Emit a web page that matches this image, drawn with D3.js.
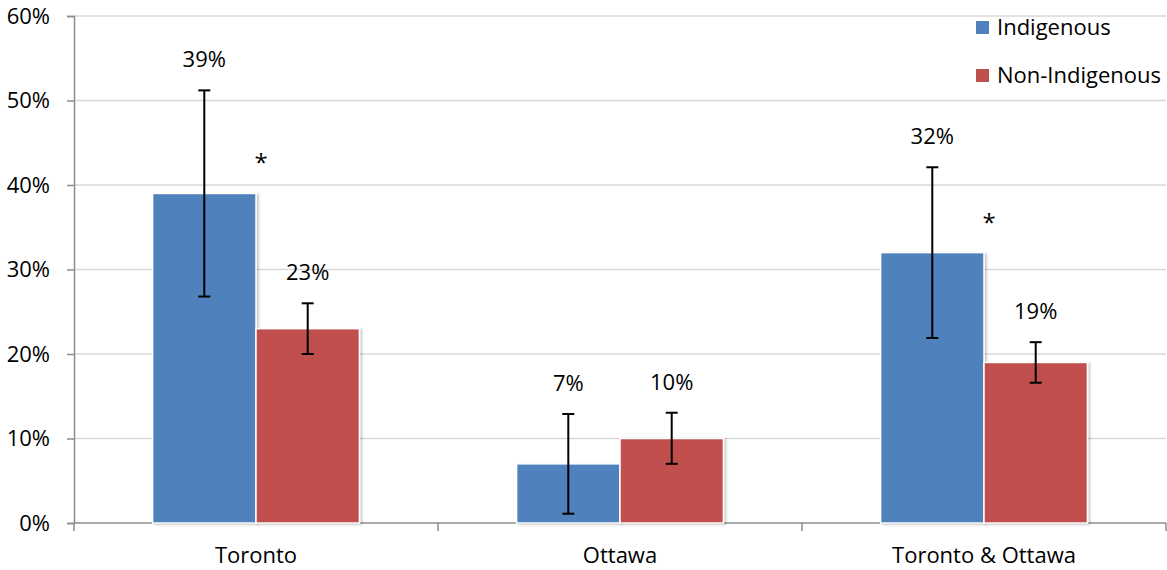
<!DOCTYPE html>
<html>
<head>
<meta charset="utf-8">
<script src="https://cdn.jsdelivr.net/npm/d3@7"></script>
<style>
  html, body { margin: 0; padding: 0; background: #fff; }
  svg { display: block; font-family: "Open Sans", Lato, sans-serif; }
</style>
</head>
<body>
<svg id="chart" width="1167" height="570"></svg>
<script>
// Share of respondents, by city and group, with 95% confidence intervals
const categories = ["Toronto", "Ottawa", "Toronto & Ottawa"];
const seriesNames = ["Indigenous", "Non-Indigenous"];
const indigenous = [39, 7, 32];
const nonIndigenous = [23, 10, 19];
const indigenousLow = [26.8, 1.1, 21.9];
const indigenousHigh = [51.2, 12.9, 42.1];
const nonIndigenousLow = [20.0, 7.0, 16.6];
const nonIndigenousHigh = [26.0, 13.05, 21.4];
const significant = [true, false, true];
const yTicks = [0, 10, 20, 30, 40, 50, 60];

const colors = { "Indigenous": "#4f81bd", "Non-Indigenous": "#c0504d" };
const FONT = "'Open Sans', Lato, sans-serif";

const svg = d3.select("#chart");
const plotLeft = 74, plotRight = 1166, plotTop = 16, plotBottom = 523;

const x0 = d3.scaleBand().domain(categories).range([plotLeft, plotRight]).padding(0);
const x1 = d3.scaleBand().domain(seriesNames).range([0, x0.bandwidth()])
  .paddingInner(0).paddingOuter(0.76);
const y = d3.scaleLinear().domain([0, 60]).range([plotBottom, plotTop]);

// drop shadow for bars
const defs = svg.append("defs");
const f = defs.append("filter").attr("id", "shadow")
  .attr("x", "-10%").attr("y", "-10%").attr("width", "130%").attr("height", "130%");
f.append("feDropShadow").attr("dx", 2).attr("dy", 1).attr("stdDeviation", 1.2)
  .attr("flood-color", "#000").attr("flood-opacity", 0.22);

// gridlines
svg.append("g").selectAll("line").data(yTicks.filter(d => d > 0)).join("line")
  .attr("x1", plotLeft).attr("x2", plotRight)
  .attr("y1", d => y(d)).attr("y2", d => y(d))
  .attr("stroke", "#d9d9d9").attr("stroke-width", 1.5);

// y axis
const yAxis = svg.append("g").attr("transform", `translate(${plotLeft},0)`)
  .call(d3.axisLeft(y).tickValues(yTicks).tickFormat(d => d + "%").tickSize(7).tickPadding(17));
yAxis.select(".domain").attr("stroke", "#8c8c8c").attr("stroke-width", 1.5);
yAxis.selectAll(".tick line").attr("stroke", "#8c8c8c").attr("stroke-width", 1.5);
yAxis.selectAll(".tick text").attr("font-size", 22).attr("fill", "#000")
  .attr("font-family", FONT);

// x axis: boundary ticks between categories
const xBounds = categories.map(c => x0(c)).concat([plotRight]);
svg.append("line").attr("x1", plotLeft).attr("x2", plotRight).attr("y1", plotBottom).attr("y2", plotBottom)
  .attr("stroke", "#8c8c8c").attr("stroke-width", 1.5);
svg.append("g").selectAll("line").data(xBounds).join("line")
  .attr("x1", d => d).attr("x2", d => d).attr("y1", plotBottom).attr("y2", plotBottom + 8)
  .attr("stroke", "#8c8c8c").attr("stroke-width", 1.5);
svg.append("g").selectAll("text").data(categories).join("text")
  .attr("x", d => x0(d) + x0.bandwidth() / 2).attr("y", 563)
  .attr("text-anchor", "middle").attr("font-size", 22).attr("fill", "#000")
  .text(d => d);

// bar data
const rows = categories.flatMap((c, i) => [
  { cat: c, s: "Indigenous", v: indigenous[i], lo: indigenousLow[i], hi: indigenousHigh[i] },
  { cat: c, s: "Non-Indigenous", v: nonIndigenous[i], lo: nonIndigenousLow[i], hi: nonIndigenousHigh[i] }
]);

const bx = d => x0(d.cat) + x1(d.s);

svg.append("g").selectAll("rect").data(rows).join("rect")
  .attr("x", d => bx(d)).attr("y", d => y(d.v))
  .attr("width", x1.bandwidth()).attr("height", d => y(0) - y(d.v))
  .attr("fill", d => colors[d.s]).attr("stroke", "#fff").attr("stroke-width", 1.5)
  .attr("filter", "url(#shadow)");

// error bars
const eb = svg.append("g").attr("stroke", "#000").attr("stroke-width", 2);
rows.forEach(d => {
  const cx = bx(d) + x1.bandwidth() / 2;
  eb.append("line").attr("x1", cx).attr("x2", cx).attr("y1", y(d.lo)).attr("y2", y(d.hi));
  [d.lo, d.hi].forEach(v => eb.append("line")
    .attr("x1", cx - 6).attr("x2", cx + 6).attr("y1", y(v)).attr("y2", y(v)));
});

// value labels above the error bars
svg.append("g").selectAll("text").data(rows).join("text")
  .attr("x", d => bx(d) + x1.bandwidth() / 2)
  .attr("y", d => y(d.hi) - 23)
  .attr("text-anchor", "middle").attr("font-size", 22).attr("fill", "#000")
  .text(d => d.v + "%");

// significance markers
svg.append("g").selectAll("text").data(categories.filter((c, i) => significant[i])).join("text")
  .attr("x", c => x0(c) + x1("Non-Indigenous") + 5)
  .attr("y", (c) => y(indigenous[categories.indexOf(c)]) - 22)
  .attr("text-anchor", "middle").attr("font-size", 24).attr("fill", "#000")
  .text("*");

// legend
const lg = svg.append("g");
seriesNames.forEach((s, i) => {
  const cy = 27 + i * 48;
  lg.append("rect").attr("x", 976).attr("y", cy - 6).attr("width", 13).attr("height", 13)
    .attr("fill", colors[s]);
  lg.append("text").attr("x", 997).attr("y", cy + 8).attr("font-size", 22).attr("fill", "#000")
    .text(s);
});
</script>
</body>
</html>
